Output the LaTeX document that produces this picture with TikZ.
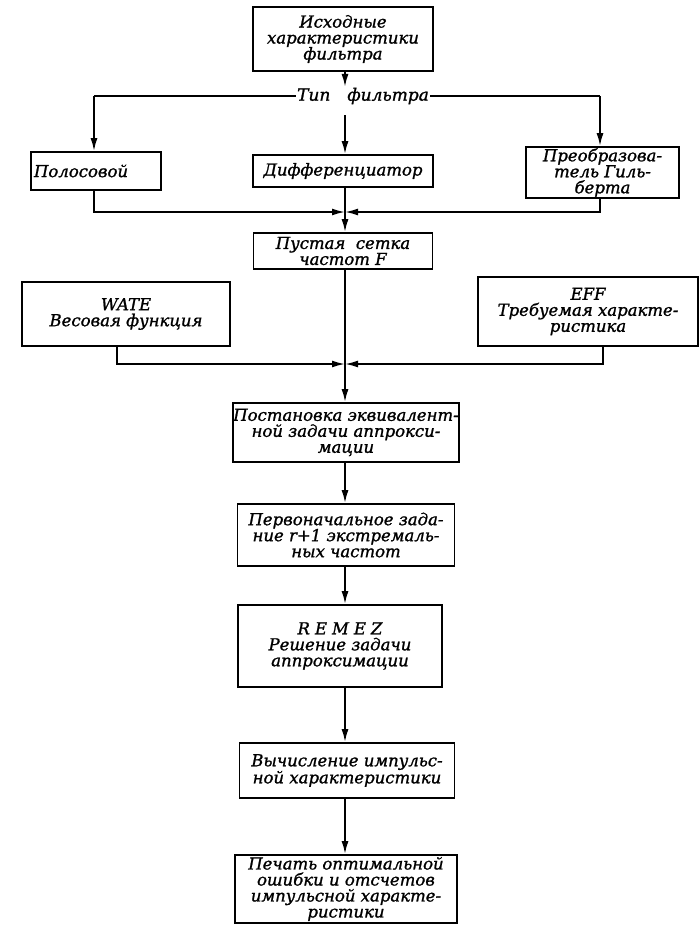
\documentclass[tikz,border=0pt]{standalone}
\usepackage{fontspec}
\setmainfont{DejaVu Serif}[FakeBold=1.2]
\usetikzlibrary{arrows.meta}
\begin{document}
\begin{tikzpicture}[x=1pt,y=-1pt,
  box/.style={draw, line width=1.8pt, inner sep=0pt, align=center,
    font=\fontsize{16.5}{16}\selectfont\itshape},
  lbl/.style={inner sep=1pt, font=\fontsize{17}{16}\selectfont\itshape},
  arr/.style={line width=1.8pt, -{Latex[length=13pt,width=7pt]}},
  ln/.style={line width=1.8pt}]
\useasboundingbox (0,0) rectangle (700,935);
\coordinate (axis) at (345,0);
% boxes
\node[box, minimum width=180pt, minimum height=64pt] (isx) at (343,39) {Исходные\\характеристики\\фильтра};
\node[lbl] (tip) at (363,96) {Тип\quad фильтра};
\node[box, minimum height=38pt, text width=124pt, inner xsep=3pt, align=left] (pol) at (96,171) {Полосовой};
\node[box, minimum width=180pt, minimum height=32pt] (dif) at (343,171) {Дифференциатор};
\node[box, minimum width=153pt, minimum height=51pt] (pre) at (602.5,172.5) {Преобразова-\\тель Гиль-\\берта};
\node[box, minimum width=179pt, minimum height=36pt] (pus) at (343,251) {Пустая\ \ сетка\\частот \textit{F}};
\node[box, minimum width=208pt, minimum height=64pt] (wate) at (126,314) {WATE\\Весовая функция};
\node[box, minimum width=220pt, minimum height=69pt] (eff) at (588,311.5) {EFF\\Требуемая характе-\\ристика};
\node[box, minimum width=218pt, minimum height=59pt] (pos) at (346,432.5) {Постановка эквивалент-\\ной задачи аппрокси-\\мации};
\node[box, minimum width=217pt, minimum height=62pt] (per) at (346,535) {Первоначальное зада-\\ние r+1 экстремаль-\\ных частот};
\node[box, minimum width=204pt, minimum height=82pt] (rem) at (340,646) {R\hspace{5pt}E\hspace{5pt}M\hspace{5pt}E\hspace{5pt}Z\\Решение задачи\\аппроксимации};
\node[box, minimum width=215pt, minimum height=55pt] (vyc) at (347,770.5) {Вычисление импульс-\\ной характеристики};
\node[box, minimum width=222pt, minimum height=68pt] (pec) at (346,889) {Печать оптимальной\\ошибки и отсчетов\\импульсной характе-\\ристики};
% helper coordinates
\coordinate (tipdown) at (345,115);
\coordinate (j1) at (345,212);
\coordinate (j2) at (345,364);
\coordinate (polx) at (94,0);
\coordinate (prex) at (600,0);
\coordinate (watex) at (117,0);
\coordinate (effx) at (603,0);
% connectors
\draw[arr] (isx.south -| axis) -- ++(0,15);
\draw[ln] (tip.west) -- (tip.west -| polx);
\draw[arr] (tip.west -| polx) -- (pol.north -| polx);
\draw[ln] (tip.east) -- (tip.east -| prex);
\draw[arr] (tip.east -| prex) -- (pre.north -| prex);
\draw[arr] (tipdown) -- (dif.north -| axis);
\draw[arr] (pol.south -| polx) |- (j1);
\draw[arr] (pre.south -| prex) |- (j1);
\draw[arr] (dif.south -| axis) -- (pus.north -| axis);
\draw[arr] (wate.south -| watex) |- (j2);
\draw[arr] (eff.south -| effx) |- (j2);
\draw[arr] (pus.south -| axis) -- (pos.north -| axis);
\draw[arr] (pos.south -| axis) -- (per.north -| axis);
\draw[arr] (per.south -| axis) -- (rem.north -| axis);
\draw[arr] (rem.south -| axis) -- (vyc.north -| axis);
\draw[arr] (vyc.south -| axis) -- (pec.north -| axis);
\end{tikzpicture}
\end{document}
